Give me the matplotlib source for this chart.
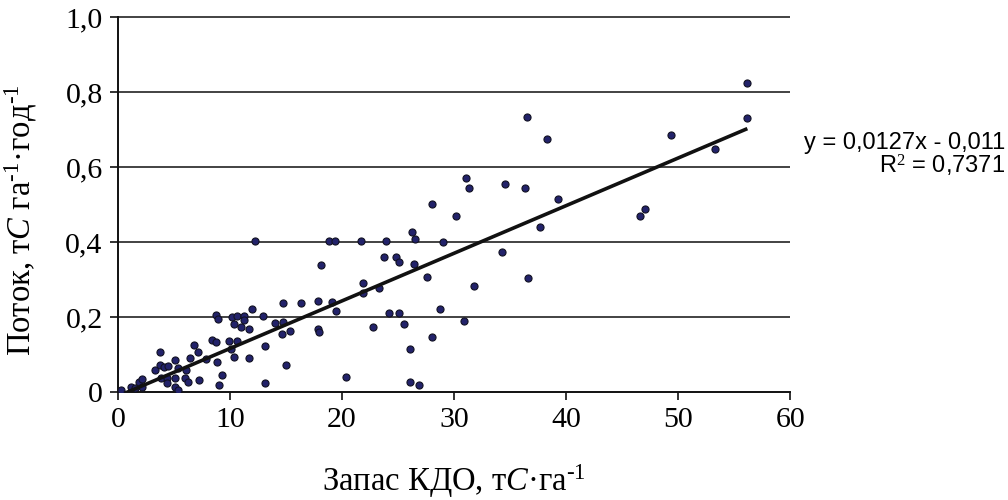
import numpy as np
import matplotlib
matplotlib.use("Agg")
import matplotlib.pyplot as plt

plt.rcParams['mathtext.fontset'] = 'custom'
plt.rcParams['mathtext.rm'] = 'Liberation Serif'
plt.rcParams['mathtext.it'] = 'Liberation Serif:italic'

# Data: stock of coarse woody debris (tC/ha) vs flux (tC/ha/yr)
stock = [0.27, 1.16, 1.52, 1.88, 2.15, 2.15, 3.76, 3.31, 3.76, 4.11,
         4.47, 5.10, 5.37, 3.85, 4.38, 4.38, 5.10, 5.10, 5.37, 6.08,
         5.99, 6.26, 6.44, 6.80, 7.16, 7.25, 7.87, 8.41, 8.77, 8.86,
         9.30, 9.03, 8.77, 8.94, 9.93, 10.11, 10.38, 10.20, 10.38, 10.64,
         10.64, 11.00, 11.27, 11.27, 11.99, 12.97, 11.72, 11.72, 13.15, 13.15,
         12.25, 14.04, 14.76, 14.67, 15.38, 15.03, 14.76, 16.37, 17.89, 19.14,
         19.50, 17.89, 17.98, 18.16, 18.87, 19.41, 20.39, 21.65, 23.88, 26.21,
         26.48, 28.98, 23.70, 24.78, 25.04, 26.39, 27.55, 21.91, 21.91, 23.26,
         24.15, 25.04, 28.71, 30.86, 22.72, 25.49, 28.00, 26.03, 26.03, 26.83,
         28.00, 30.14, 31.04, 31.31, 36.49, 38.28, 34.53, 36.31, 39.27, 37.66,
         34.26, 36.58, 31.75, 56.17, 56.17, 49.37, 53.31, 47.05, 46.60]
flux = [0.005, 0.013, 0.011, 0.027, 0.035, 0.013, 0.107, 0.059, 0.072, 0.067,
        0.069, 0.085, 0.064, 0.037, 0.037, 0.024, 0.037, 0.013, 0.005, 0.059,
        0.037, 0.027, 0.091, 0.125, 0.107, 0.032, 0.088, 0.139, 0.133, 0.080,
        0.045, 0.019, 0.205, 0.195, 0.136, 0.115, 0.093, 0.200, 0.181, 0.203,
        0.136, 0.173, 0.203, 0.192, 0.221, 0.203, 0.168, 0.091, 0.123, 0.024,
        0.403, 0.184, 0.187, 0.155, 0.163, 0.072, 0.237, 0.237, 0.243, 0.240,
        0.216, 0.168, 0.160, 0.339, 0.403, 0.403, 0.040, 0.403, 0.403, 0.427,
        0.408, 0.400, 0.360, 0.360, 0.347, 0.341, 0.307, 0.291, 0.264, 0.277,
        0.211, 0.211, 0.221, 0.189, 0.173, 0.181, 0.147, 0.115, 0.027, 0.019,
        0.501, 0.469, 0.571, 0.544, 0.733, 0.675, 0.555, 0.544, 0.515, 0.440,
        0.373, 0.304, 0.283, 0.824, 0.731, 0.685, 0.648, 0.488, 0.469]

slope = 0.0127
intercept = -0.011
eq_text = "y = 0,0127x - 0,011"
r2_text = "R$^2$ = 0,7371"

x_ticks = [0, 10, 20, 30, 40, 50, 60]
y_ticks = [0, 0.2, 0.4, 0.6, 0.8, 1.0]
y_tick_labels = ["0", "0,2", "0,4", "0,6", "0,8", "1,0"]

fig = plt.figure(figsize=(10.08, 5.0), dpi=100)
ax = fig.add_axes([0.117, 0.216, 0.667, 0.750])

ax.set_xlim(0, 60)
ax.set_ylim(0, 1.0)

# horizontal gridlines
ax.hlines(y_ticks[1:], 0, 60, colors='#222222', linewidth=1.2, clip_on=False, zorder=1)

ax.scatter(stock, flux, s=26, facecolor='#22226a', edgecolor='#111122',
           linewidth=0.8, zorder=3)

xs = np.array([min(stock), max(stock)])
ax.plot(xs, slope * xs + intercept, color='#111111', linewidth=2.6, zorder=4,
        solid_capstyle='butt')

for s in ['top', 'right']:
    ax.spines[s].set_visible(False)
for s in ['left', 'bottom']:
    ax.spines[s].set_linewidth(1.4)
    ax.spines[s].set_color('#111111')

ax.set_xticks(x_ticks)
ax.set_xticklabels([str(v) for v in x_ticks])
ax.set_yticks(y_ticks)
ax.set_yticklabels(y_tick_labels)
ax.tick_params(axis='both', direction='out', length=6, width=1.2, color='#111111',
               labelsize=21.5, pad=5)
for lab in ax.get_xticklabels() + ax.get_yticklabels():
    lab.set_family('Liberation Serif')

ax.set_xlabel("Запас КДО, т$\\mathit{C}$·га$^{\\text{-1}}$", family='Liberation Serif',
              fontsize=23.5, labelpad=21)
ax.set_ylabel("Поток, т$\\mathit{C}$ га$^{\\text{-1}}$·год$^{\\text{-1}}$",
              family='Liberation Serif', fontsize=23.5)
ax.yaxis.set_label_coords(-0.117, 0.458)

fig.text(0.997, 0.713, eq_text, ha='right', va='center', family='Liberation Sans',
         fontsize=17)
fig.text(0.997, 0.668, r2_text, ha='right', va='center', family='Liberation Sans',
         fontsize=17)

fig.savefig("out.png", dpi=100)
